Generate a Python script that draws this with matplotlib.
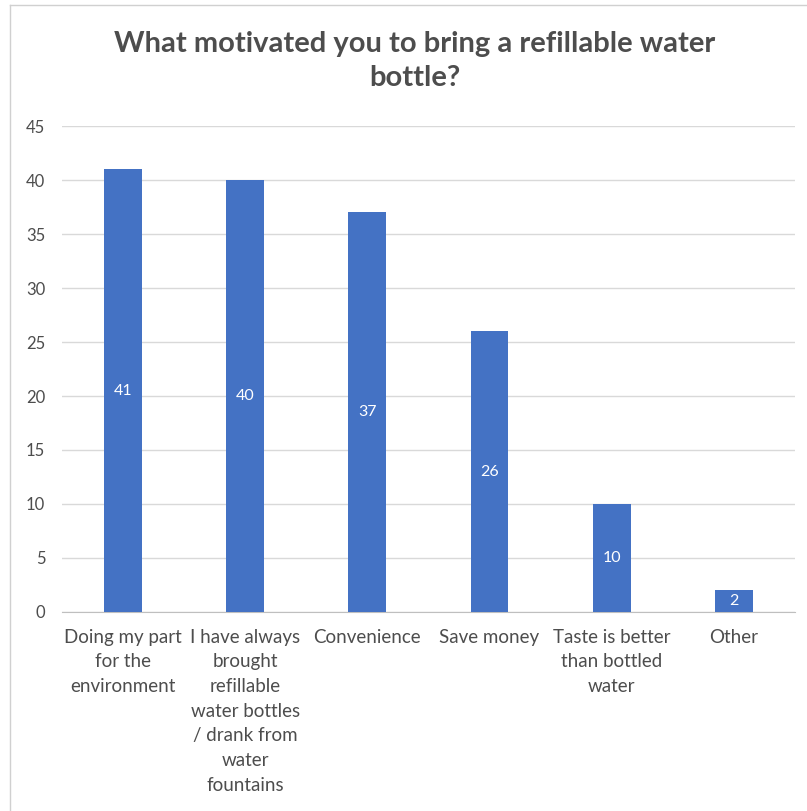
import matplotlib.pyplot as plt
from matplotlib.lines import Line2D

categories = [
    "Doing my part\nfor the\nenvironment",
    "I have always\nbrought\nrefillable\nwater bottles\n/ drank from\nwater\nfountains",
    "Convenience",
    "Save money",
    "Taste is better\nthan bottled\nwater",
    "Other",
]
counts = [41, 40, 37, 26, 10, 2]
y_ticks = [0, 5, 10, 15, 20, 25, 30, 35, 40, 45]

BAR = "#4472C4"
TEXT = "#4D4D4D"
GRID = "#D9D9D9"
FONT = "Lato"

fig = plt.figure(figsize=(8.07, 8.11), dpi=100)
ax = fig.add_axes([0.0768, 0.2454, 0.9082, 0.5992])

x = range(len(categories))
bars = ax.bar(x, counts, width=0.31, color=BAR, zorder=3)

# value labels sit in the middle of each bar
for rect, v in zip(bars, counts):
    ax.text(rect.get_x() + rect.get_width() / 2, v / 2, str(v),
            ha="center", va="center", color="white", fontsize=11.5,
            family=FONT, zorder=4)

ax.set_xlim(-0.5, len(categories) - 0.5)
ax.set_ylim(0, 45)
ax.set_yticks(y_ticks)
ax.set_yticklabels([str(t) for t in y_ticks], fontsize=12, color=TEXT,
                   family=FONT)
ax.set_xticks(list(x))
ax.set_xticklabels(categories, fontsize=13.5, color=TEXT, family=FONT,
                   linespacing=1.55, va="top")
ax.tick_params(axis="both", length=0)
ax.tick_params(axis="y", pad=12)
ax.tick_params(axis="x", pad=12)

ax.grid(axis="y", color=GRID, linewidth=1, zorder=0)
for s in ["top", "right", "left"]:
    ax.spines[s].set_visible(False)
ax.spines["bottom"].set_color("#BFBFBF")
ax.spines["bottom"].set_zorder(2)

fig.text(0.514, 0.962, "What motivated you to bring a refillable water\nbottle?",
         ha="center", va="top", fontsize=21, fontweight="bold", color=TEXT,
         family=FONT, linespacing=1.4)

# light chart-area frame on the left and top
fig.add_artist(Line2D([0.012, 0.012], [0, 0.994], color="#D0D0D0", lw=1))
fig.add_artist(Line2D([0.012, 1.0], [0.994, 0.994], color="#D0D0D0", lw=1))

fig.savefig("out.png", dpi=100, facecolor="white")
